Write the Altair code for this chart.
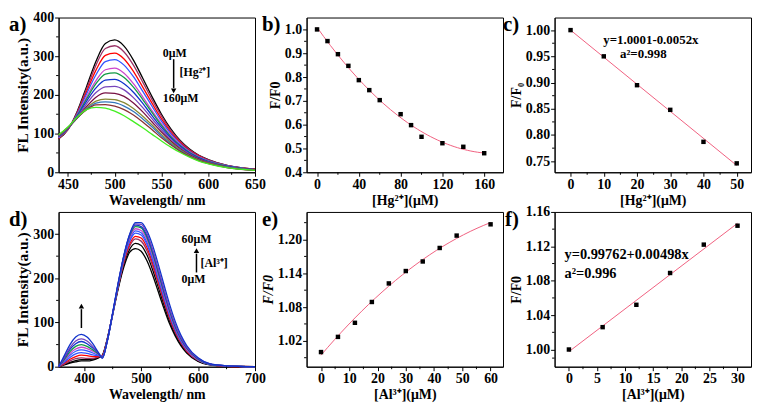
import altair as alt
import pandas as pd

FONT = "Liberation Serif"
W, H = 198, 156
PINK = "#F0607F"

# ---------------- panel a : Hg2+ spectra ----------------
a_wl = [440, 450, 460, 470, 480, 490, 500, 510, 520, 530, 540, 550, 560, 570, 580, 590, 600, 620, 650]
a_conc = ["0", "10", "20", "30", "40", "50", "60", "80", "90", "100", "120", "140", "160"]
a_colors = ["#000000", "#993366", "#FF0000", "#3355FF", "#CC44CC", "#119944", "#1133CC",
            "#7744BB", "#771144", "#888833", "#3377BB", "#883333", "#44EE22"]
a_I = [
    [86, 110, 158, 222, 287, 333, 342, 326, 290, 243, 195, 150, 112, 82, 60, 44, 33, 18, 8],
    [87, 111, 156, 216, 277, 320, 327, 311, 277, 233, 187, 145, 108, 80, 58, 43, 32, 18, 8],
    [88, 111, 153, 209, 264, 302, 308, 293, 261, 220, 178, 138, 104, 77, 56, 42, 31, 17, 8],
    [89, 112, 151, 203, 252, 286, 291, 277, 247, 209, 170, 132, 100, 74, 54, 40, 30, 17, 7],
    [90, 112, 148, 195, 237, 265, 269, 256, 229, 195, 159, 125, 95, 71, 52, 39, 29, 16, 7],
    [91, 113, 147, 190, 229, 254, 257, 245, 220, 188, 154, 121, 92, 69, 51, 38, 28, 16, 7],
    [92, 113, 145, 184, 218, 238, 240, 229, 207, 178, 146, 116, 89, 67, 49, 37, 27, 15, 7],
    [93, 114, 143, 177, 206, 221, 222, 213, 193, 167, 138, 110, 85, 64, 47, 35, 26, 14, 6],
    [94, 115, 141, 170, 194, 205, 204, 196, 179, 156, 130, 104, 81, 61, 45, 34, 25, 14, 6],
    [95, 115, 140, 166, 184, 189, 188, 180, 165, 145, 122, 98, 77, 58, 43, 32, 24, 13, 6],
    [95, 116, 140, 164, 179, 182, 180, 171, 157, 138, 117, 94, 74, 56, 42, 31, 23, 13, 5],
    [96, 116, 141, 162, 174, 175, 171, 162, 148, 130, 110, 89, 71, 54, 41, 30, 23, 12, 5],
    [97, 117, 143, 162, 168, 166, 158, 146, 131, 115, 98, 81, 65, 51, 39, 29, 22, 12, 5],
]

# ---------------- panel b / c : Hg2+ quenching ----------------
b_x = [0, 10, 20, 30, 40, 50, 60, 80, 90, 100, 120, 140, 160]
b_y = [1.000, 0.951, 0.896, 0.847, 0.787, 0.745, 0.703, 0.644, 0.598, 0.549, 0.522, 0.507, 0.480]
c_x = [0, 10, 20, 30, 40, 50]
c_y = [1.000, 0.950, 0.895, 0.848, 0.787, 0.746]

# ---------------- panel d : Al3+ spectra ----------------
d_wl = [355, 365, 375, 385, 395, 405, 415, 425, 432, 440, 450, 460, 470, 480, 490, 500,
        510, 520, 530, 540, 550, 560, 570, 580, 600, 620, 650, 700]
d_conc = ["0", "6", "12", "18", "24", "30", "36", "42", "48", "54", "60"]
d_colors = ["#000000", "#E040D0", "#202090", "#4455DD", "#22AAAA", "#22BB33",
            "#88EE44", "#883399", "#33CCBB", "#111111", "#2244EE"]
d_I = [
    [0, 4, 8, 11, 13, 13, 15, 20, 26, 60, 118, 178, 227, 259, 267, 261, 240, 208, 170, 132, 97, 69, 47, 31, 12, 4, 1, 0],
    [0, 5, 10, 14, 16, 16, 17, 21, 26, 60, 119, 181, 233, 266, 279, 274, 253, 220, 180, 140, 103, 73, 50, 33, 13, 5, 1, 0],
    [0, 6, 13, 18, 20, 19, 19, 22, 25, 59, 119, 183, 237, 273, 289, 284, 263, 229, 188, 147, 108, 77, 53, 35, 14, 5, 1, 0],
    [0, 8, 17, 23, 26, 25, 23, 23, 25, 58, 119, 184, 240, 278, 295, 291, 270, 235, 193, 151, 112, 80, 55, 36, 15, 5, 1, 0],
    [0, 10, 21, 29, 32, 30, 27, 25, 24, 57, 119, 186, 244, 284, 302, 298, 277, 242, 199, 156, 116, 83, 57, 38, 15, 5, 2, 0],
    [0, 12, 26, 35, 38, 36, 31, 26, 23, 56, 119, 187, 247, 288, 307, 303, 282, 247, 204, 160, 119, 86, 59, 39, 16, 6, 2, 0],
    [0, 14, 30, 40, 44, 41, 35, 28, 22, 56, 120, 188, 249, 292, 312, 308, 288, 252, 208, 164, 122, 88, 61, 40, 16, 6, 2, 0],
    [0, 16, 34, 46, 50, 46, 38, 29, 21, 55, 120, 189, 251, 296, 317, 314, 293, 257, 213, 168, 126, 90, 63, 42, 17, 6, 2, 0],
    [0, 19, 39, 52, 57, 52, 42, 30, 21, 55, 121, 190, 252, 298, 320, 317, 297, 261, 217, 171, 128, 92, 64, 43, 18, 6, 2, 0],
    [0, 21, 43, 58, 63, 58, 46, 31, 20, 55, 121, 191, 253, 299, 323, 322, 302, 266, 222, 176, 132, 95, 66, 45, 19, 7, 2, 0],
    [0, 25, 50, 67, 73, 67, 52, 32, 19, 55, 122, 192, 254, 300, 326, 326, 308, 275, 232, 186, 141, 102, 71, 48, 20, 7, 2, 0],
]

# ---------------- panel e / f : Al3+ enhancement ----------------
e_x = [0, 6, 12, 18, 24, 30, 36, 42, 48, 60]
e_y = [1.000, 1.027, 1.052, 1.089, 1.122, 1.144, 1.161, 1.185, 1.207, 1.227]
f_x = [0, 6, 12, 18, 24, 30]
f_y = [1.000, 1.026, 1.052, 1.089, 1.122, 1.144]


# ---------------- helpers ----------------
def one():
    return pd.DataFrame({"k": [0]})


def txt(s, x, y, size=12, align="left", baseline="middle", style="normal"):
    return alt.Chart(pd.DataFrame({"t": [s]})).mark_text(
        align=align, baseline=baseline, font=FONT, fontWeight="bold",
        fontSize=size, fontStyle=style, color="black"
    ).encode(text="t:N", x=alt.value(x), y=alt.value(y))


def arrow(x, y_tail, y_head, up):
    rule = alt.Chart(one()).mark_rule(color="black", strokeWidth=1.5).encode(
        x=alt.value(x), y=alt.value(y_tail), y2=alt.value(y_head + (3 if up else -3)))
    head = alt.Chart(one()).mark_point(
        shape="triangle-up" if up else "triangle-down", filled=True,
        color="black", size=30, opacity=1).encode(x=alt.value(x), y=alt.value(y_head))
    return [rule, head]


def xminor(vals, scale, axis):
    return alt.Chart(pd.DataFrame({"v": vals})).mark_rule(color="black", strokeWidth=1).encode(
        x=alt.X("v:Q", scale=scale, axis=axis), y=alt.value(H), y2=alt.value(H + 2.5))


def yminor(vals, scale, axis):
    return alt.Chart(pd.DataFrame({"v": vals})).mark_rule(color="black", strokeWidth=1).encode(
        y=alt.Y("v:Q", scale=scale, axis=axis), x=alt.value(0), x2=alt.value(-2.5))


def spectra_df(wl, concs, table):
    rows = []
    for c, vals in zip(concs, table):
        for w, v in zip(wl, vals):
            rows.append({"wl": w, "I": v, "conc": c})
    return pd.DataFrame(rows)


def scatter_panel(xs, ys, xscale, yscale, xaxis, yaxis, method, order=1):
    df = pd.DataFrame({"x": xs, "y": ys})
    enc = dict(x=alt.X("x:Q", scale=xscale, axis=xaxis), y=alt.Y("y:Q", scale=yscale, axis=yaxis))
    if method == "poly":
        fit = alt.Chart(df).transform_regression("x", "y", method="poly", order=order)
    else:
        fit = alt.Chart(df).transform_regression("x", "y", method="linear")
    fit = fit.mark_line(color=PINK, strokeWidth=1).encode(**enc)
    pts = alt.Chart(df).mark_square(color="black", size=20, opacity=1).encode(**enc)
    return [fit, pts]


# ---------------- panel a ----------------
xa = alt.Scale(domain=[440, 650], nice=False, zero=False)
ya = alt.Scale(domain=[0, 400], nice=False, zero=False)
axa_x = alt.Axis(values=[450, 500, 550, 600, 650], format="d", title="Wavelength/ nm")
axa_y = alt.Axis(values=[0, 100, 200, 300, 400], format="d", title="FL Intensity(a.u.)", titleFontSize=15.5)
lines_a = alt.Chart(spectra_df(a_wl, a_conc, a_I)).mark_line(strokeWidth=1.3, interpolate="monotone").encode(
    x=alt.X("wl:Q", scale=xa, axis=axa_x),
    y=alt.Y("I:Q", scale=ya, axis=axa_y),
    color=alt.Color("conc:N", scale=alt.Scale(domain=a_conc, range=a_colors), legend=None),
)
pa = alt.layer(
    lines_a,
    xminor([475, 525, 575, 625], xa, axa_x), yminor([50, 150, 250, 350], ya, axa_y),
    txt("0μM", 105, 36), *arrow(116, 42, 74, False), txt("[Hg²⁺]", 122, 55), txt("160μM", 105, 81),
    txt("a)", -50, 14, size=21, baseline="alphabetic"),
).properties(width=W, height=H)

# ---------------- panel b ----------------
xb = alt.Scale(domain=[-10, 178], nice=False, zero=False)
yb = alt.Scale(domain=[0.4, 1.05], nice=False, zero=False)
axb_x = alt.Axis(values=[0, 40, 80, 120, 160], format="d", title="[Hg²⁺](μM)")
axb_y = alt.Axis(values=[0.4, 0.5, 0.6, 0.7, 0.8, 0.9, 1.0], format=".1f", title="F/F0")
pb = alt.layer(
    *scatter_panel(b_x, b_y, xb, yb, axb_x, axb_y, "poly", 2),
    xminor([20, 60, 100, 140], xb, axb_x), yminor([0.45, 0.55, 0.65, 0.75, 0.85, 0.95], yb, axb_y),
    txt("b)", -45, 14, size=21, baseline="alphabetic"),
).properties(width=W, height=H)

# ---------------- panel c ----------------
xc = alt.Scale(domain=[-4.8, 54.3], nice=False, zero=False)
yc = alt.Scale(domain=[0.729, 1.024], nice=False, zero=False)
axc_x = alt.Axis(values=[0, 10, 20, 30, 40, 50], format="d", title="[Hg²⁺](μM)")
axc_y = alt.Axis(values=[0.75, 0.80, 0.85, 0.90, 0.95, 1.00], format=".2f", title="F/F₀")
pc = alt.layer(
    *scatter_panel(c_x, c_y, xc, yc, axc_x, axc_y, "linear"),
    xminor([5, 15, 25, 35, 45], xc, axc_x), yminor([0.775, 0.825, 0.875, 0.925, 0.975], yc, axc_y),
    txt("y=1.0001-0.0052x", 49, 23, size=13), txt("a²=0.998", 66, 37, size=13),
    txt("c)", -52, 14, size=21, baseline="alphabetic"),
).properties(width=W, height=H)

# ---------------- panel d ----------------
xd = alt.Scale(domain=[355, 700], nice=False, zero=False)
yd = alt.Scale(domain=[0, 350], nice=False, zero=False)
axd_x = alt.Axis(values=[400, 500, 600, 700], format="d", title="Wavelength/ nm")
axd_y = alt.Axis(values=[0, 100, 200, 300], format="d", title="FL Intensity(a.u.)", titleFontSize=15.5)
lines_d = alt.Chart(spectra_df(d_wl, d_conc, d_I)).mark_line(strokeWidth=1.3, interpolate="monotone").encode(
    x=alt.X("wl:Q", scale=xd, axis=axd_x),
    y=alt.Y("I:Q", scale=yd, axis=axd_y),
    color=alt.Color("conc:N", scale=alt.Scale(domain=d_conc, range=d_colors), legend=None),
)
pd_ = alt.layer(
    lines_d,
    xminor([450, 550, 650], xd, axd_x), yminor([50, 150, 250], yd, axd_y),
    txt("60μM", 124, 27), *arrow(139, 61, 39, True), txt("[Al³⁺]", 143, 51), txt("0μM", 124, 68),
    *arrow(23, 117, 95, True),
    txt("d)", -50, 14, size=21, baseline="alphabetic"),
).properties(width=W, height=H)

# ---------------- panel e ----------------
xe = alt.Scale(domain=[-5.1, 64.4], nice=False, zero=False)
ye = alt.Scale(domain=[0.974, 1.249], nice=False, zero=False)
axe_x = alt.Axis(values=[0, 10, 20, 30, 40, 50, 60], format="d", title="[Al³⁺](μM)")
axe_y = alt.Axis(values=[1.02, 1.08, 1.14, 1.20], format=".2f", title="F/F0", titleFontStyle="italic")
pe = alt.layer(
    *scatter_panel(e_x, e_y, xe, ye, axe_x, axe_y, "poly", 2),
    xminor([5, 15, 25, 35, 45, 55], xe, axe_x), yminor([0.99, 1.05, 1.11, 1.17, 1.23], ye, axe_y),
    txt("e)", -45, 14, size=21, baseline="alphabetic"),
).properties(width=W, height=H)

# ---------------- panel f ----------------
xf = alt.Scale(domain=[-2.55, 32.4], nice=False, zero=False)
yf = alt.Scale(domain=[0.98, 1.16], nice=False, zero=False)
axf_x = alt.Axis(values=[0, 5, 10, 15, 20, 25, 30], format="d", title="[Al³⁺](μM)")
axf_y = alt.Axis(values=[1.00, 1.04, 1.08, 1.12, 1.16], format=".2f", title="F/F0")
pf = alt.layer(
    *scatter_panel(f_x, f_y, xf, yf, axf_x, axf_y, "linear"),
    xminor([2.5, 7.5, 12.5, 17.5, 22.5, 27.5], xf, axf_x), yminor([0.99, 1.02, 1.06, 1.10, 1.14], yf, axf_y),
    txt("y=0.99762+0.00498x", 10, 43, size=14.5), txt("a²=0.996", 10, 63, size=14.5),
    txt("f)", -50, 14, size=21, baseline="alphabetic"),
).properties(width=W, height=H)

chart = alt.ConcatChart(
    concat=[pa, pb, pc, pd_, pe, pf], columns=3,
    spacing={"row": 40, "column": 52}, bounds="flush", padding=0,
).configure_view(stroke="black", strokeWidth=1).configure_axis(
    labelFont=FONT, labelFontWeight="bold", labelFontSize=14, labelColor="black",
    titleFont=FONT, titleFontWeight="bold", titleFontSize=14, titleColor="black",
    domainColor="black", domainWidth=1, tickColor="black", tickWidth=1, tickSize=4,
    grid=False, labelPadding=1, titlePadding=2, labelFlush=False, labelOverlap=False,
)

chart.save("out.html", embed_options={"renderer": "svg", "actions": False})
